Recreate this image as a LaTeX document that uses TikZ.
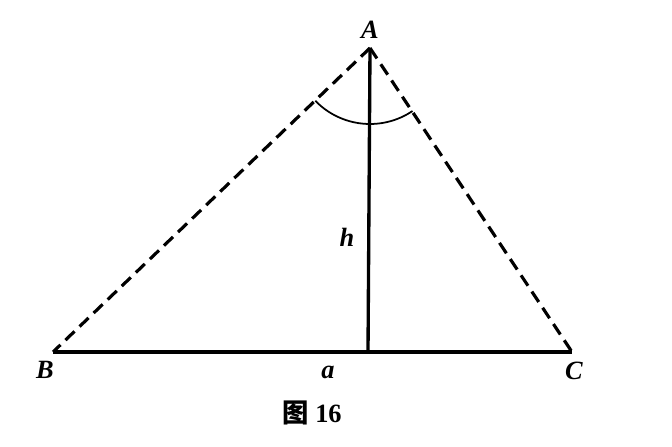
\documentclass[tikz,border=0pt]{standalone}
\usepackage{fontspec}
\setmainfont{Liberation Serif}
\newfontfamily\cjk{Noto Sans CJK SC}
\begin{document}
\begin{tikzpicture}[
                x=0.02cm, y=0.02cm,
                vlabel/.style={font=\fontsize{15}{17}\selectfont\bfseries\itshape, inner sep=0pt},
                side/.style={line width=1.8pt, dash pattern=on 0.25cm off 0.14cm},
                solidline/.style={line width=1.9pt},
                anglearc/.style={line width=1pt}
            ]
                \useasboundingbox (0,0) rectangle (672,446);

                % Vertices of the triangle and foot of the height
                \coordinate (A) at (370,398);
                \coordinate (B) at (53,94);
                \coordinate (C) at (572,94);
                \coordinate (H) at (368,94);

                % Vertex labels
                \node[vlabel] (labA) at (370,416) {A};
                \node[vlabel] (labB) at (45,76) {B};
                \node[vlabel] (labC) at (574,75) {C};

                % Dashed sides
                \draw[side] (A) -- (B);
                \draw[side] (A) -- (C);

                % Base and height
                \draw[solidline] (B) -- (C);
                \draw[solidline] (A) -- (H);
                \node[vlabel] (laba) at (328,74) {a};
                \node[vlabel] (labh) at (347,209) {h};

                % Angle at A
                \draw[anglearc] ([shift={(224:76)}]A) arc (224:304:76);

                % Caption
                \node[font=\fontsize{15}{17}\selectfont\bfseries] (cap) at (312,33) {{\cjk 图} 16};

            \end{tikzpicture}
\end{document}
